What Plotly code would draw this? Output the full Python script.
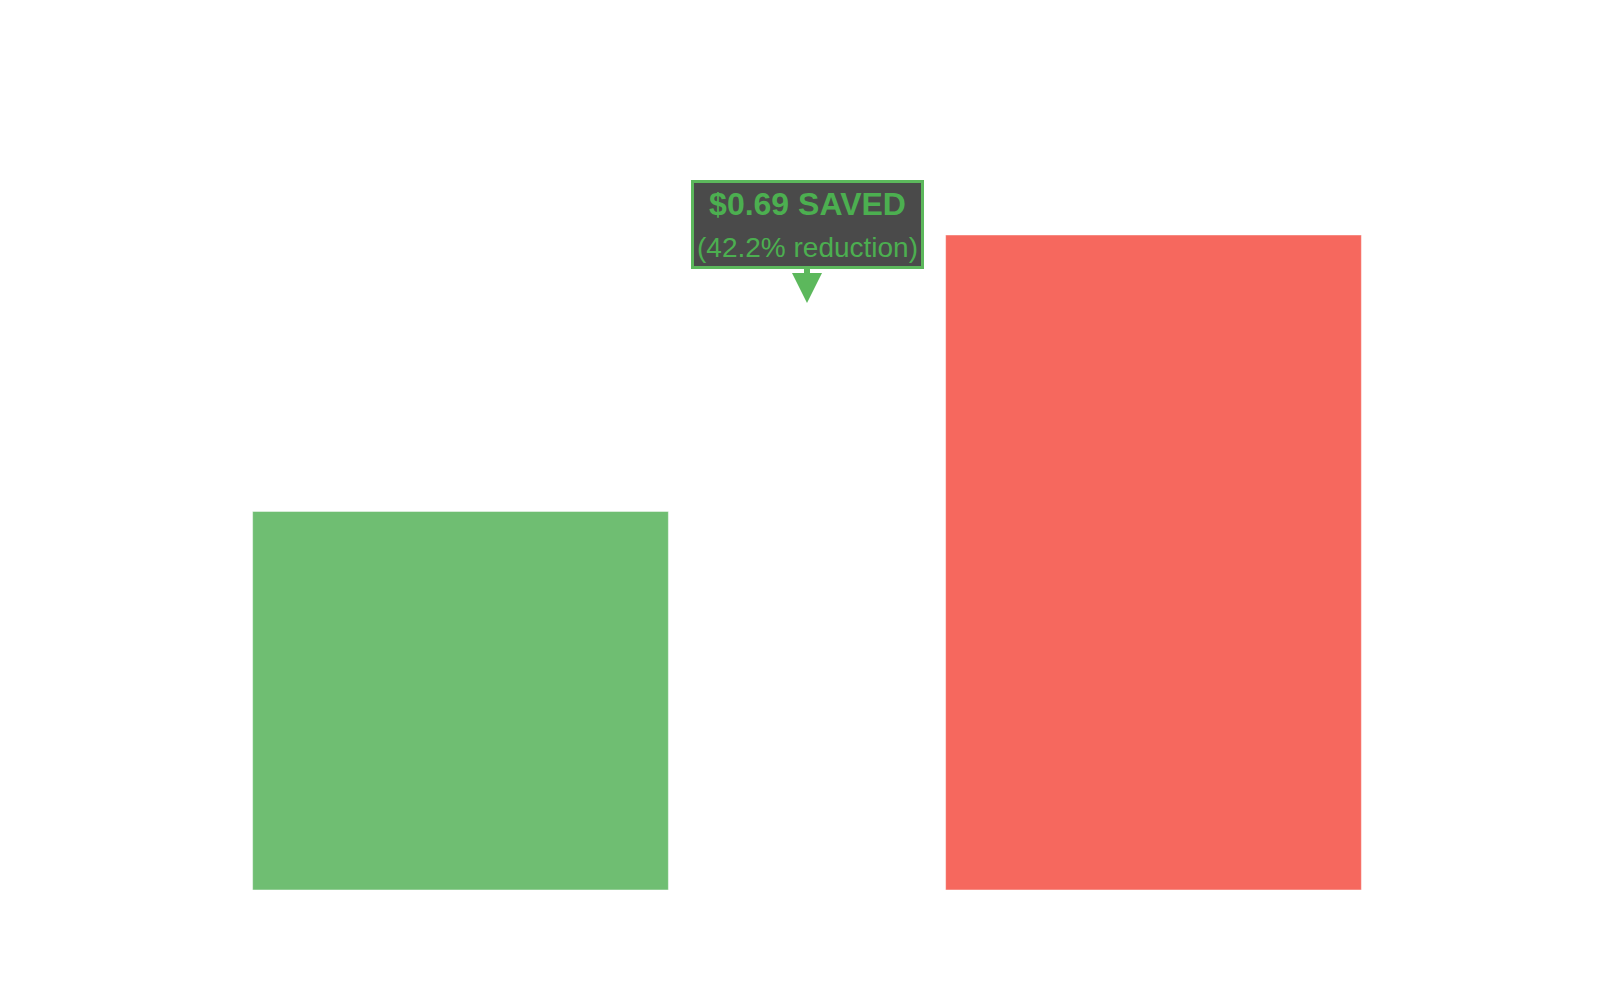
import plotly.graph_objects as go

# Data
categories = ["Optimized", "Original"]
costs = [0.945, 1.635]
bar_colors = ["#4CAF50", "#F44336"]
saved_amount = 0.69
saved_pct = 42.2

fig = go.Figure()
fig.add_trace(go.Bar(
    x=categories,
    y=costs,
    width=0.6,
    marker=dict(color=bar_colors, opacity=0.8, line=dict(color="white", width=0.5)),
    showlegend=False,
    hoverinfo="skip",
))

fig.add_annotation(
    x=0.5,
    y=costs[1] * 0.896,
    xref="x",
    yref="y",
    text=f"<b>${saved_amount:.2f} SAVED</b><br><span style='font-size:28px'>({saved_pct}% reduction)</span>",
    showarrow=True,
    arrowhead=2,
    arrowsize=1,
    arrowwidth=6,
    arrowcolor="#5cb85c",
    ax=0,
    ay=-79,
    font=dict(family="Liberation Sans, Arial, sans-serif", size=32, color="#4CAF50"),
    bgcolor="rgba(0,0,0,0.71)",
    bordercolor="#5cb85c",
    borderwidth=3,
    borderpad=3,
)

fig.update_layout(
    template="plotly_white",
    width=1600,
    height=1000,
    margin=dict(l=106, r=108, t=192, b=118),
    paper_bgcolor="white",
    plot_bgcolor="white",
    xaxis=dict(visible=False, range=[-0.5, 1.5]),
    yaxis=dict(visible=False, range=[0, 1.7222]),
)

fig.write_html("out.html")
